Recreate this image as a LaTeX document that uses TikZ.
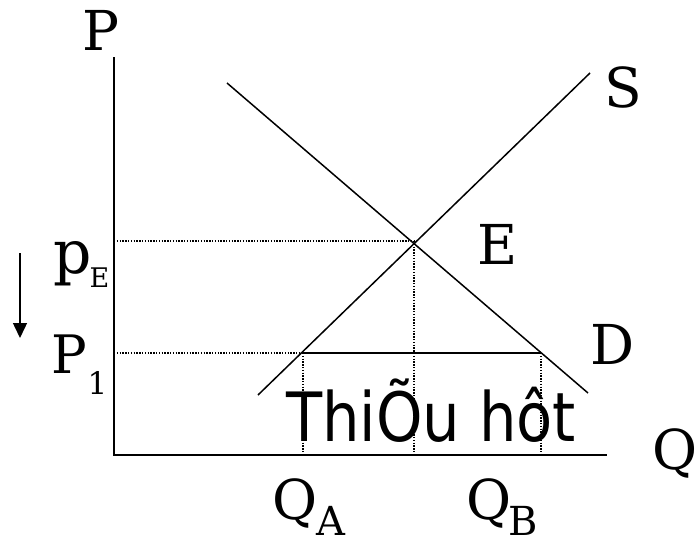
\documentclass[tikz,border=0pt]{standalone}
\usepackage{fontspec}
\setmainfont{DejaVu Serif}
\newfontfamily\vietfont[FakeStretch=0.87]{DejaVu Sans}
\usetikzlibrary{arrows.meta}
\tikzset{
  curve/.style={line width=1.5pt, line cap=butt},
  axis/.style={line width=1.6pt},
  guide/.style={line width=1.3pt, dash pattern=on 1.3pt off 1.5pt},
  lbl/.style={inner sep=0pt, anchor=base, font=\fontsize{55}{55}\selectfont},
  sublbl/.style={inner sep=0pt, anchor=base}
}
\begin{document}
\begin{tikzpicture}[x=1pt,y=-1pt]
\useasboundingbox (0,0) rectangle (697,541);
% coordinates
\coordinate (O) at (114,455);
\coordinate (Ptop) at (114,57);
\coordinate (Qend) at (607,455);
\coordinate (S0) at (258,395);
\coordinate (S1) at (590,73);
\coordinate (D0) at (227,83);
\coordinate (D1) at (588,393);
\coordinate (Eq) at (414,241);
\coordinate (yE) at (114,241);
\coordinate (xE) at (414,455);
\coordinate (y1) at (114,353);
\coordinate (A) at (303,353);
\coordinate (B) at (541,353);
\coordinate (xA) at (303,455);
\coordinate (xB) at (541,455);
\coordinate (arrS) at (20,253);
\coordinate (arrE) at (20,338);
% guides
\draw[guide] (yE) -- (Eq);
\draw[guide] (Eq) -- (xE);
\draw[guide] (y1) -- (A);
\draw[guide] (A) -- (xA);
\draw[guide] (B) -- (xB);
% axes
\draw[axis] (Ptop) -- (O) -- (Qend);
% curves
\draw[curve] (S0) -- (S1);
\draw[curve] (D0) -- (D1);
\draw[curve] (A) -- (B);
% arrow
\draw[line width=1.5pt, -{Triangle[length=15pt,width=14pt]}] (arrS) -- (arrE);
% labels
\node[lbl] (lP) at (101.5,50) {P};
\node[lbl] (lS) at (623,107) {S};
\node[lbl] (lE) at (498,264) {E};
\node[lbl] (lD) at (613,364) {D};
\node[lbl] (lQ) at (675,469) {Q};
\node[sublbl, font=\fontsize{60}{60}\selectfont] (lpE) at (72.5,273) {p};
\node[sublbl, font=\fontsize{27}{27}\selectfont] (lpEs) at (99.5,287) {E};
\node[sublbl, font=\fontsize{53}{53}\selectfont] (lP1) at (69,373) {P};
\node[sublbl, font=\fontsize{31}{31}\selectfont] (lP1s) at (97.5,394) {1};
\node[lbl] (lQA) at (295,519) {Q};
\node[sublbl, font=\fontsize{40}{40}\selectfont] (lQAs) at (330.5,535.5) {A};
\node[lbl] (lQB) at (489,519) {Q};
\node[sublbl, font=\fontsize{40}{40}\selectfont] (lQBs) at (523,535.5) {B};
\node[inner sep=0pt, anchor=base west, font=\vietfont\fontsize{68}{68}\selectfont] (short) at (286,441) {ThiÕu hôt};
\end{tikzpicture}
\end{document}
